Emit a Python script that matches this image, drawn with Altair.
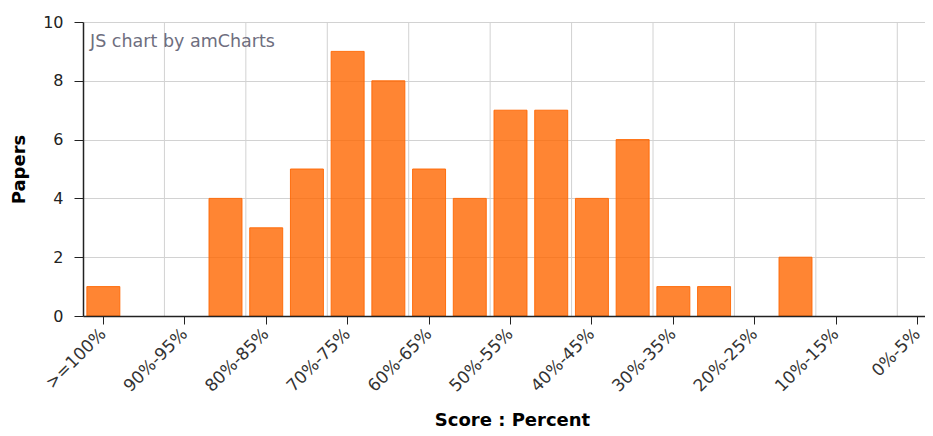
import altair as alt
import pandas as pd

categories = [">=100%", "95%-100%", "90%-95%", "85%-90%", "80%-85%", "75%-80%",
              "70%-75%", "65%-70%", "60%-65%", "55%-60%", "50%-55%", "45%-50%",
              "40%-45%", "35%-40%", "30%-35%", "25%-30%", "20%-25%", "15%-20%",
              "10%-15%", "5%-10%", "0%-5%"]
papers = [1, 0, 0, 4, 3, 5, 9, 8, 5, 4, 7, 7, 4, 6, 1, 1, 0, 2, 0, 0, 0]
shown_labels = categories[::2]
grid_cats = categories[2::2]
y_ticks = [0, 2, 4, 6, 8, 10]

df = pd.DataFrame({"Score": categories, "Papers": papers})
grid_df = pd.DataFrame({"Score": grid_cats})
note_df = pd.DataFrame({"t": ["JS chart by amCharts"]})

FONT = "DejaVu Sans"
W, H = 842, 294
X_RANGE = 855  # plot runs past the right edge of the picture, as in the reference

xscale = alt.Scale(domain=categories, paddingInner=0, paddingOuter=0, range=[0, X_RANGE])
xaxis = alt.Axis(values=shown_labels, labelAngle=315, labelAlign="right",
                 labelBaseline="middle", labelPadding=7, tickSize=8,
                 tickColor="#222", domainColor="#222", domainWidth=1.5,
                 labelFont=FONT, labelFontSize=17, labelColor="#333",
                 titleFont=FONT, titleFontSize=18, titleFontWeight="bold",
                 titleColor="#000", titleX=429, titleY=104,
                 titleBaseline="middle", titleAlign="center",
                 grid=False, zindex=1)

grid = alt.Chart(grid_df).mark_rule(color="#d2d2d2", strokeWidth=1).encode(
    x=alt.X("Score:N", scale=xscale, bandPosition=0, title="Score : Percent", axis=xaxis),
    y=alt.value(0),
    y2=alt.value(H),
)

bars = alt.Chart(df).transform_filter("datum.Papers > 0").mark_bar(
    color="#FF6600", fillOpacity=0.8, stroke="#FF6600", strokeWidth=1, strokeOpacity=0.9,
    width=alt.RelativeBandSize(0.81)
).encode(
    x=alt.X("Score:N", scale=xscale, title="Score : Percent", axis=xaxis),
    y=alt.Y("Papers:Q", scale=alt.Scale(domain=[0, 10]), title="Papers",
            axis=alt.Axis(values=y_ticks, tickSize=9, tickColor="#222",
                          domainColor="#222", domainWidth=1.5, labelPadding=11,
                          labelFont=FONT, labelFontSize=16, labelColor="#222",
                          titleFont=FONT, titleFontSize=18, titleFontWeight="bold",
                          titleColor="#000", titleX=-64, titleY=H / 2,
                          titleAngle=270, titleBaseline="middle", titleAlign="center",
                          grid=True, gridColor="#d2d2d2", gridWidth=1, zindex=0)),
)

note = alt.Chart(note_df).mark_text(
    align="left", baseline="middle", font=FONT, fontSize=17.5, color="#6e6e7e"
).encode(x=alt.value(7), y=alt.value(20), text="t:N")

chart = alt.layer(grid, bars, note).properties(
    width=W, height=H,
    autosize=alt.AutoSizeParams(type="none"),
    padding={"left": 75, "top": 14, "right": 0, "bottom": 112},
).configure_view(stroke=None)

chart.save("out.html", embed_options={"renderer": "svg", "actions": False})
